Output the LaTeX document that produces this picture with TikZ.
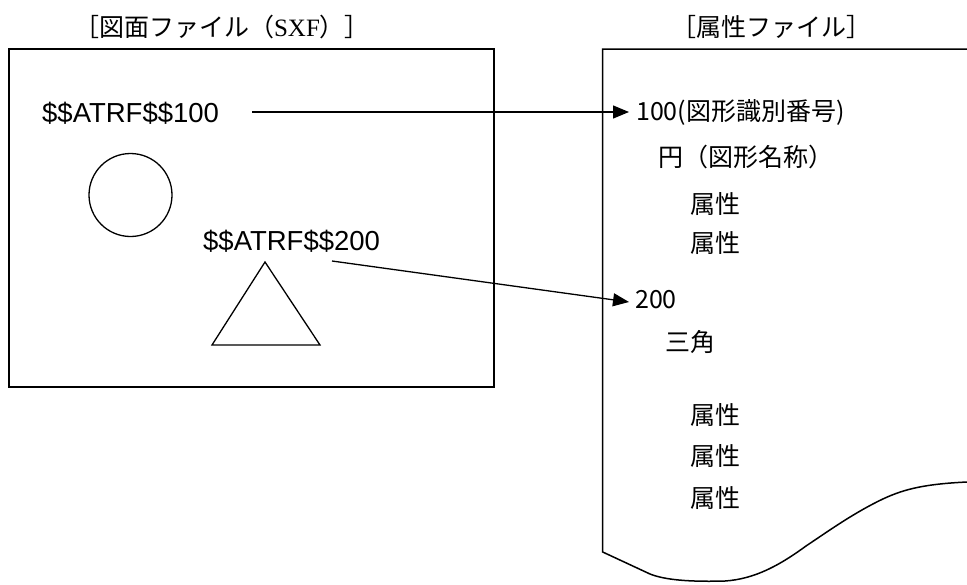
\documentclass[tikz,border=0pt]{standalone}
\usepackage{fontspec}
\setmainfont{Liberation Sans}
\newfontfamily\jpfont{Noto Sans CJK JP}
\newfontfamily\serifl{Liberation Serif}
\usetikzlibrary{arrows.meta}
\begin{document}
\begin{tikzpicture}[x=1pt,y=-1pt,
  boxline/.style={line width=1.5pt, line join=miter},
  shapeline/.style={line width=1.3pt},
  conn/.style={line width=1.3pt, -{Triangle[length=16pt,width=13pt]}},
  latinlbl/.style={anchor=base west, inner sep=0pt, font=\fontsize{27.5}{32}\selectfont},
  jtxt/.style={anchor=west, inner sep=0pt, font=\jpfont\fontsize{25}{30}\selectfont},
  ttl/.style={inner sep=0pt, font=\jpfont\fontsize{25}{30}\selectfont}]
\useasboundingbox (0,0) rectangle (967,584);
% titles
\node[ttl] (t1) at (222,27) {［図面ファイル（{\serifl SXF}）］};
\node[ttl] (t2) at (771,27) {［属性ファイル］};
% left drawing box
\draw[boxline] (9,49) rectangle (494,387);
% right attribute sheet
\draw[boxline] (967,49) -- (602.7,49) -- (602.7,552) -- (650,574)
  .. controls (665,580) and (690,582) .. (725,581)
  .. controls (755,579) and (780,565) .. (806,546)
  .. controls (830,530) and (855,512) .. (885,498)
  .. controls (905,489) and (925,484) .. (967,482);
% shapes
\draw[shapeline] (130.5,195) circle (41.5);
\draw[shapeline, line join=miter] (265,262) -- (320,345) -- (212,345) -- cycle;
% left labels
\node[latinlbl] (s100) at (42,122) {\$\$ATRF\$\$100};
\node[latinlbl] (s200) at (203,250) {\$\$ATRF\$\$200};
% right texts
\node[jtxt] (r100) at (636,112) {100(図形識別番号)};
\node[jtxt] (rcirc) at (658,157) {円（図形名称）};
\node[jtxt] (ra1) at (690,204) {属性};
\node[jtxt] (ra2) at (690,243) {属性};
\node[jtxt] (r200) at (635,300) {200};
\node[jtxt] (rtri) at (665,342) {三角};
\node[jtxt] (ra3) at (690,415) {属性};
\node[jtxt] (ra4) at (690,456) {属性};
\node[jtxt] (ra5) at (690,498) {属性};
% connectors
\coordinate (c1s) at (252,112);
\coordinate (c1e) at (629,112);
\coordinate (c2s) at (332,261);
\coordinate (c2e) at (629,302);
\draw[conn] (c1s) -- (c1e);
\draw[conn] (c2s) -- (c2e);
\end{tikzpicture}
\end{document}
